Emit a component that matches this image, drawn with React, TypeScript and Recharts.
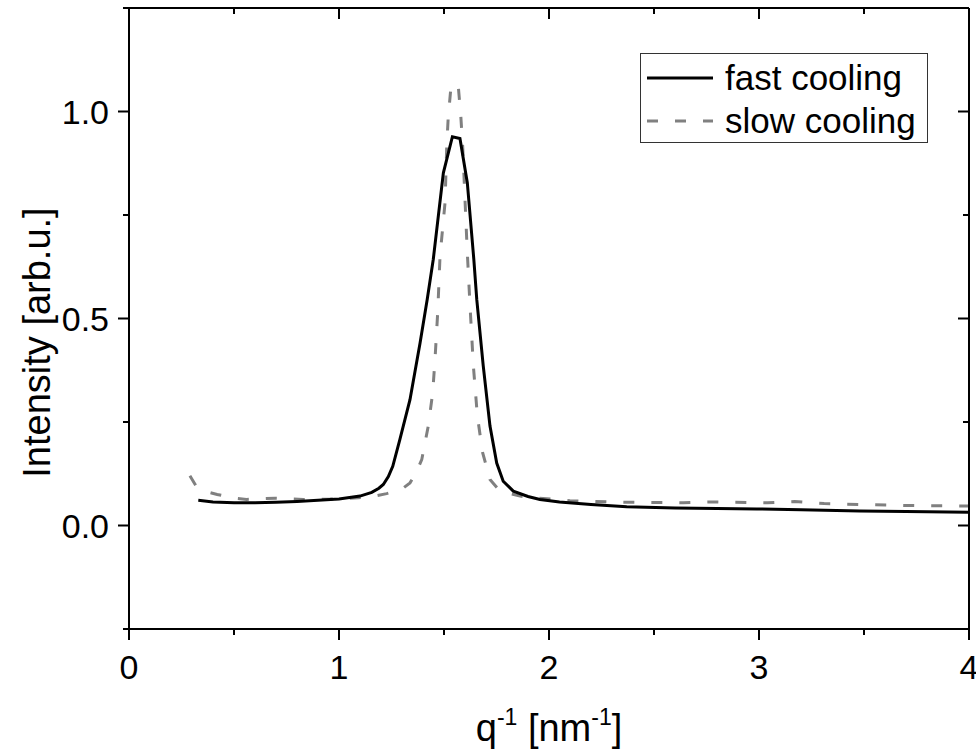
import React from 'react';
import { LineChart, Line, XAxis, YAxis, Legend, Label } from 'recharts';

// q values [nm^-1] and intensities
const fastQ = [0.33, 0.4, 0.5, 0.6, 0.7, 0.8, 0.9, 1.0, 1.1, 1.156, 1.19, 1.211, 1.235, 1.256, 1.29, 1.338, 1.386, 1.42, 1.449, 1.497, 1.54, 1.576, 1.611, 1.642, 1.656, 1.687, 1.719, 1.751, 1.782, 1.83, 1.9, 1.957, 2.05, 2.2, 2.37, 2.6, 2.8, 2.99, 3.2, 3.48, 3.7, 4.0];
const fastI = [0.061, 0.057, 0.055, 0.055, 0.056, 0.058, 0.061, 0.064, 0.071, 0.08, 0.09, 0.099, 0.118, 0.143, 0.208, 0.304, 0.441, 0.546, 0.643, 0.852, 0.939, 0.935, 0.828, 0.643, 0.546, 0.385, 0.24, 0.151, 0.107, 0.083, 0.07, 0.063, 0.057, 0.051, 0.045, 0.042, 0.041, 0.04, 0.038, 0.035, 0.034, 0.032];

const slowQ = [0.29, 0.32, 0.36, 0.42, 0.5, 0.56, 0.695, 0.83, 0.957, 1.092, 1.16, 1.227, 1.3, 1.338, 1.365, 1.394, 1.425, 1.446, 1.457, 1.47, 1.481, 1.505, 1.513, 1.52, 1.532, 1.548, 1.568, 1.58, 1.589, 1.6, 1.611, 1.624, 1.64, 1.659, 1.684, 1.719, 1.767, 1.862, 1.95, 2.1, 2.37, 2.64, 2.78, 3.04, 3.17, 3.31, 3.54, 3.75, 3.96, 4.0];
const slowI = [0.12, 0.095, 0.083, 0.075, 0.066, 0.063, 0.066, 0.063, 0.064, 0.067, 0.07, 0.077, 0.088, 0.103, 0.125, 0.159, 0.24, 0.32, 0.4, 0.514, 0.65, 0.78, 0.916, 0.985, 1.053, 1.068, 1.061, 0.989, 0.916, 0.787, 0.659, 0.53, 0.385, 0.264, 0.176, 0.111, 0.083, 0.071, 0.066, 0.06, 0.056, 0.055, 0.057, 0.055, 0.058, 0.053, 0.05, 0.048, 0.047, 0.047];

const xTicks = [0, 0.5, 1, 1.5, 2, 2.5, 3, 3.5, 4];
const yTicks = [-0.25, 0, 0.25, 0.5, 0.75, 1.0, 1.25];

const fastData = fastQ.map((q, i) => ({ q, i: fastI[i] }));
const slowData = slowQ.map((q, i) => ({ q, i: slowI[i] }));

const FONT = '"Liberation Sans", Arial, sans-serif';
const MAJOR = 11;
const MINOR = 6;

const isMajorX = (v: number) => Math.abs(v - Math.round(v)) < 1e-6;
const isMajorY = (v: number) => Math.abs(v * 2 - Math.round(v * 2)) < 1e-6;

const BottomTick = ({ x, y, payload }: any) => {
  const major = isMajorX(payload.value);
  return (
    <g>
      <line x1={x} x2={x} y1={y} y2={y + (major ? MAJOR : MINOR)} stroke="#000" strokeWidth={2} />
      {major && (
        <text x={x} y={y + 50} textAnchor="middle" fontSize={34} fontFamily={FONT} fill="#000">
          {payload.value}
        </text>
      )}
    </g>
  );
};

// mirrored axes: ticks point into the plot
const TopTick = ({ x, y, payload }: any) => {
  const major = isMajorX(payload.value);
  return <line x1={x} x2={x} y1={y} y2={y + (major ? MAJOR : MINOR)} stroke="#000" strokeWidth={2} />;
};

const LeftTick = ({ x, y, payload }: any) => {
  const major = isMajorY(payload.value);
  return (
    <g>
      <line x1={x - (major ? MAJOR : MINOR)} x2={x} y1={y} y2={y} stroke="#000" strokeWidth={2} />
      {major && (
        <text x={x - 20} y={y + 12} textAnchor="end" fontSize={34} fontFamily={FONT} fill="#000">
          {payload.value.toFixed(1)}
        </text>
      )}
    </g>
  );
};

const RightTick = ({ x, y, payload }: any) => {
  const major = isMajorY(payload.value);
  return <line x1={x - (major ? MAJOR : MINOR)} x2={x} y1={y} y2={y} stroke="#000" strokeWidth={2} />;
};

const LegendBox = () => (
  <svg width={288} height={90}>
    <rect x={0.5} y={0.5} width={287} height={89} fill="#fff" stroke="#333" strokeWidth={1} />
    <line x1={7} x2={73} y1={25} y2={25} stroke="#000" strokeWidth={3} />
    <text x={85} y={37} fontSize={35} fontFamily={FONT} fill="#000">fast cooling</text>
    <line x1={7} x2={73} y1={68} y2={68} stroke="#808080" strokeWidth={3} strokeDasharray="11 17" />
    <text x={85} y={80} fontSize={35} fontFamily={FONT} fill="#000">slow cooling</text>
  </svg>
);

const XTitle = ({ viewBox }: any) => {
  const cx = viewBox.x + viewBox.width / 2;
  return (
    <text x={cx} y={viewBox.y + 112} textAnchor="middle" fontSize={38} fontFamily={FONT} fill="#000">
      <tspan>q</tspan>
      <tspan fontSize={23} dy={-16}>-1</tspan>
      <tspan dy={16}> [nm</tspan>
      <tspan fontSize={23} dy={-16}>-1</tspan>
      <tspan dy={16}>]</tspan>
    </text>
  );
};

const YTitle = ({ viewBox }: any) => {
  const cy = viewBox.y + viewBox.height / 2 + 24;
  const x = 50;
  return (
    <text x={x} y={cy} transform={`rotate(-90 ${x} ${cy})`} textAnchor="middle" fontSize={38} fontFamily={FONT} fill="#000">
      Intensity [arb.u.]
    </text>
  );
};

export default function App() {
  return (
    <div style={{ position: 'absolute', left: 0, top: 0, width: 976, height: 752, background: '#fff' }}>
      <LineChart width={976} height={752} margin={{ top: 7, right: 6, bottom: 0, left: 0 }}>
        <XAxis
          xAxisId="bottom"
          dataKey="q"
          type="number"
          domain={[0, 4]}
          ticks={xTicks}
          interval={0}
          allowDataOverflow
          height={123}
          tickSize={0}
          tickMargin={0}
          tickLine={false}
          axisLine={{ stroke: '#000', strokeWidth: 2 }}
          tick={<BottomTick />}
        >
          <Label content={<XTitle />} />
        </XAxis>
        <XAxis
          xAxisId="top"
          orientation="top"
          dataKey="q"
          type="number"
          domain={[0, 4]}
          ticks={xTicks}
          interval={0}
          allowDataOverflow
          height={1}
          tickSize={0}
          tickMargin={0}
          tickLine={false}
          axisLine={{ stroke: '#000', strokeWidth: 2 }}
          tick={<TopTick />}
        />
        <YAxis
          yAxisId="left"
          type="number"
          domain={[-0.25, 1.25]}
          ticks={yTicks}
          interval={0}
          allowDataOverflow
          width={129}
          tickSize={0}
          tickMargin={0}
          tickLine={false}
          axisLine={{ stroke: '#000', strokeWidth: 2 }}
          tick={<LeftTick />}
        >
          <Label content={<YTitle />} />
        </YAxis>
        <YAxis
          yAxisId="right"
          orientation="right"
          type="number"
          domain={[-0.25, 1.25]}
          ticks={yTicks}
          interval={0}
          allowDataOverflow
          width={1}
          tickSize={0}
          tickMargin={0}
          tickLine={false}
          axisLine={{ stroke: '#000', strokeWidth: 2 }}
          tick={<RightTick />}
        />
        <Legend
          layout="horizontal"
          verticalAlign="middle"
          align="center"
          content={<LegendBox />}
          wrapperStyle={{ position: 'absolute', left: 640, top: 53, width: 288, height: 90 }}
        />
        <Line
          xAxisId="bottom"
          yAxisId="left"
          data={slowData}
          dataKey="i"
          name="slow cooling"
          type="linear"
          stroke="#808080"
          strokeWidth={3}
          strokeDasharray="11 17"
          dot={false}
          isAnimationActive={false}
        />
        <Line
          xAxisId="bottom"
          yAxisId="left"
          data={fastData}
          dataKey="i"
          name="fast cooling"
          type="linear"
          stroke="#000"
          strokeWidth={3}
          dot={false}
          isAnimationActive={false}
        />
      </LineChart>
    </div>
  );
}
